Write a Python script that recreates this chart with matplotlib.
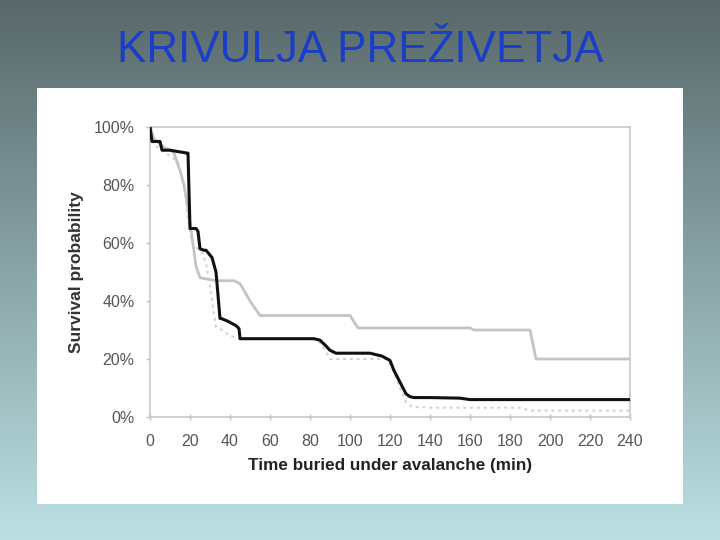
import numpy as np
import matplotlib
matplotlib.use("Agg")
import matplotlib.pyplot as plt
from matplotlib.patches import Rectangle
from matplotlib.ticker import FuncFormatter

title = "KRIVULJA PREŽIVETJA"
x_label = "Time buried under avalanche (min)"
y_label = "Survival probability"
x_ticks = [0, 20, 40, 60, 80, 100, 120, 140, 160, 180, 200, 220, 240]
y_ticks = [0, 20, 40, 60, 80, 100]

# black curve (minutes, %)
black_t = [0, 1, 5, 6, 10, 18.5, 19, 20, 23, 24, 25, 27, 28, 31, 33, 35, 35.5, 39, 43, 44.5, 45,
           82, 85, 88, 90, 93, 100, 110, 116, 120, 122, 128, 130, 132, 140, 155, 160, 241]
black_v = [100, 95, 95, 92, 92, 91, 91, 65, 65, 64, 58, 57.5, 57.5, 55, 50, 34, 34, 33, 31.5, 30.5, 27,
           27, 26.5, 24.5, 23, 22, 22, 22, 21, 19.5, 16, 8, 7, 6.7, 6.7, 6.5, 6, 6]

# light grey curve
grey_t = [0, 2, 7, 10, 12, 15, 17, 19, 21, 23, 25, 33, 42, 45, 50, 55, 100, 104, 160, 162, 190, 193, 240]
grey_v = [100, 96, 93, 92, 91, 85, 80, 72, 62, 52, 48, 47, 47, 46, 40, 35, 35, 30.7, 30.7, 30, 30, 20, 20]

# dotted curve
dot_t = [0, 2, 8, 14, 17, 19, 21, 24, 26, 28, 30, 33, 36, 40, 45, 82, 86, 90, 118, 121, 125, 128, 131, 140, 185, 190, 240]
dot_v = [100, 94, 91, 88, 80, 68, 60, 58, 57, 53, 45, 31, 30, 28, 27, 27, 25, 20, 20, 17, 10, 5, 3.5, 3.2, 3.2, 2.2, 2.2]

W, H = 720, 540
fig = plt.figure(figsize=(7.2, 5.4), dpi=100)

# gradient background
bg = fig.add_axes([0, 0, 1, 1], zorder=-10)
top = np.array([0x58, 0x68, 0x6a]) / 255
bot = np.array([0xbb, 0xe0, 0xe3]) / 255
g = np.linspace(0, 1, 256)[:, None]
img = top[None, None, :] * (1 - g[:, :, None]) + bot[None, None, :] * g[:, :, None]
img = np.repeat(img, 2, axis=1)
bg.imshow(img, aspect="auto", extent=[0, 1, 0, 1], origin="upper")
bg.set_xlim(0, 1)
bg.set_ylim(0, 1)
bg.axis("off")

# white panel
fig.patches.append(Rectangle((37 / W, (H - 504) / H), 646 / W, 416 / H,
                             transform=fig.transFigure, facecolor="white",
                             edgecolor="none", zorder=-5))

fig.text(360 / W, 1 - 62 / H, title, ha="center", va="baseline",
         fontsize=31.7, color="#1a3ec6", family="Liberation Sans")

ax = fig.add_axes([150 / W, (H - 417) / H, 480 / W, 290 / H])
ax.set_facecolor("none")
ax.plot(dot_t, dot_v, color="#d0d0d0", lw=1.4, ls=(0, (1.5, 2)), zorder=2)
ax.plot(grey_t, grey_v, color="#c4c4c4", lw=2.0, zorder=3, solid_joinstyle="round")
ax.plot(black_t, black_v, color="#111111", lw=2.2, zorder=4, solid_joinstyle="round")

ax.set_xlim(0, 240)
ax.set_ylim(0, 100)
ax.set_xticks(x_ticks)
ax.set_yticks(y_ticks)
ax.yaxis.set_major_formatter(FuncFormatter(lambda v, p: f"{int(v)}%"))
for s in ax.spines.values():
    s.set_color("#c8c8c8")
    s.set_linewidth(1.2)
ax.tick_params(axis="both", colors="#c0c0c0", length=3, width=1, labelcolor="#555555",
               labelsize=11.5)
ax.tick_params(axis="x", direction="inout", length=4, pad=10)
ax.tick_params(axis="y", direction="out", pad=8)
for lab in ax.get_xticklabels() + ax.get_yticklabels():
    lab.set_family("Liberation Sans")

ax.set_xlabel(x_label, fontsize=12.3, fontweight="bold", color="#222222",
              family="Liberation Sans", labelpad=7)
ax.set_ylabel(y_label, fontsize=12.5, fontweight="bold", color="#333333",
              family="Liberation Sans", labelpad=7)

fig.savefig("out.png", dpi=100)
